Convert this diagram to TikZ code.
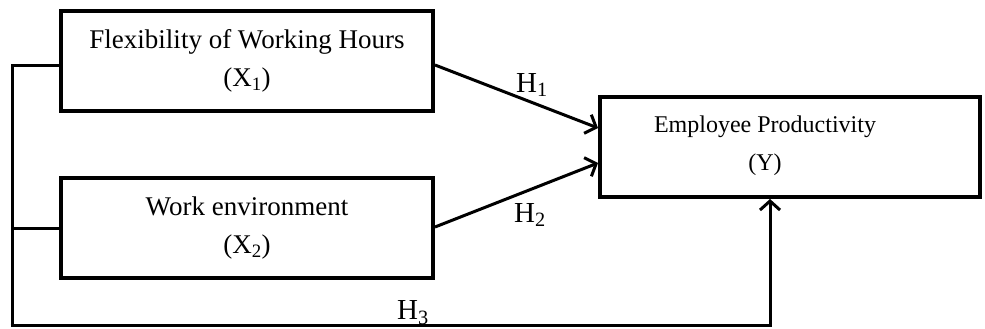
\documentclass[tikz,border=0pt]{standalone}
\usepackage{fontspec}
\setmainfont{Liberation Serif}
\usetikzlibrary{arrows.meta}
\begin{document}
\begin{tikzpicture}[x=1pt,y=-1pt,
  box/.style={draw,line width=4pt,minimum height=100pt,inner sep=0pt},
  btext/.style={align=center,inner sep=0pt},
  conn/.style={line width=3pt},
  arr/.style={conn,-{Straight Barb[length=9pt,width=20pt,line width=3pt]}},
  hlab/.style={font=\fontsize{29}{32}\selectfont,inner sep=0pt}]
\useasboundingbox (0,0) rectangle (985,329);
\node[box,btext,minimum width=372pt,font=\fontsize{27}{30}\selectfont] (x1) at (247,61) {Flexibility of Working Hours\\[8pt](X\textsubscript{1})};
\node[box,btext,minimum width=372pt,font=\fontsize{27}{30}\selectfont] (x2) at (247,228) {Work environment\\[8pt](X\textsubscript{2})};
\node[box,minimum width=380pt] (y) at (790,147) {};
\node[btext,font=\fontsize{24}{30}\selectfont] (yt) at (765,146) {Employee Productivity\\[8pt](Y)};
\coordinate (L) at (12,325);
\draw[arr] ([yshift=-4pt]x1.east) -- ([yshift=19pt]y.west);
\draw[arr] ([yshift=1pt]x2.east) -- ([yshift=-16pt]y.west);
\draw[conn] ([yshift=-5pt]x1.west) -| (L);
\draw[conn] (x2.west) -- (x2.west -| L);
\draw[arr] ([xshift=-1.5pt]L) -| ([xshift=-20pt]y.south);
\node[hlab] (h1) at (532,85) {H\textsubscript{1}};
\node[hlab] (h2) at (530,215) {H\textsubscript{2}};
\node[hlab] (h3) at (413,313) {H\textsubscript{3}};
\end{tikzpicture}
\end{document}
